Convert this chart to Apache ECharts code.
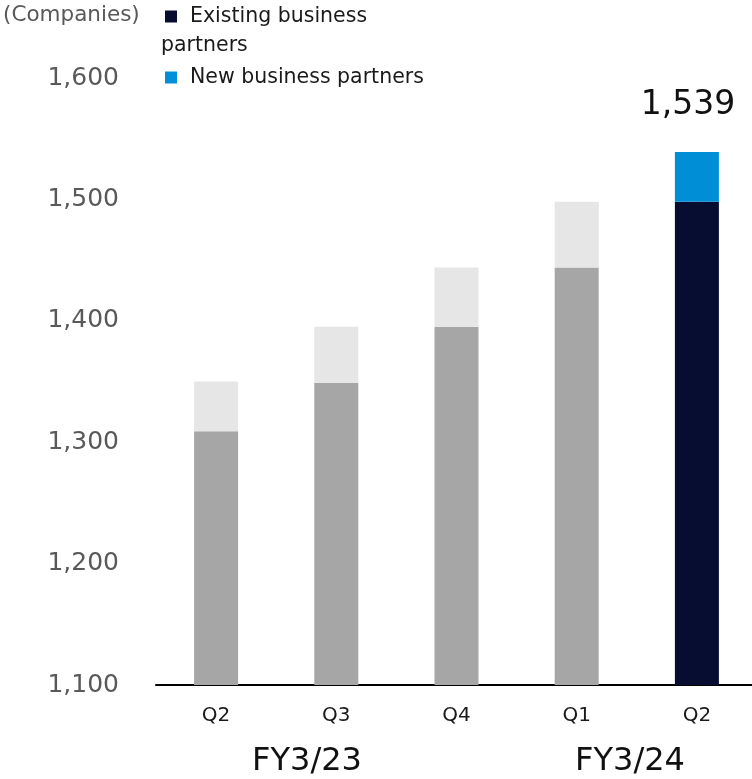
<!DOCTYPE html>
<html>
<head>
<meta charset="utf-8">
<script src="https://cdn.jsdelivr.net/npm/echarts@6/dist/echarts.min.js"></script>
<style>
  html, body { margin: 0; padding: 0; background: #ffffff; }
  #chart { width: 752px; height: 779px; }
</style>
</head>
<body>
<div id="chart"></div>
<script>
// Quarter categories and business-partner counts
const quarters = ['Q2', 'Q3', 'Q4', 'Q1', 'Q2'];
const existingPartners = [1309, 1349, 1395, 1444, 1498];
const newPartners = [41, 46, 49, 54, 41];
const fiscalYears = ['FY3/23', 'FY3/24'];
const yTicks = { min: 1100, max: 1600, interval: 100 };
const unitLabel = '(Companies)';
const seriesNames = ['Existing business partners', 'New business partners'];

const FONT = '"DejaVu Sans", Verdana, sans-serif';
const lastIdx = quarters.length - 1;

// Earlier quarters in grey tones, latest quarter highlighted
const existingData = existingPartners.map((v, i) => ({
  value: v,
  itemStyle: { color: i === lastIdx ? '#060D30' : '#A6A6A6' }
}));
const newData = newPartners.map((v, i) => ({
  value: v,
  itemStyle: { color: i === lastIdx ? '#008FD6' : '#E6E6E6' },
  label: i === lastIdx ? {
    show: true,
    position: 'top',
    distance: 30,
    offset: [-9, 0],
    formatter: () => (existingPartners[i] + newPartners[i]).toLocaleString('en-US'),
    fontFamily: FONT,
    fontSize: 33,
    color: '#111111'
  } : { show: false }
}));

const chart = echarts.init(document.getElementById('chart'), null, { renderer: 'canvas' });

const legendText = { fontFamily: FONT, fontSize: 20.5, color: '#1a1a1a', padding: [0, 0, 0, 8] };

chart.setOption({
  animation: false,
  backgroundColor: '#ffffff',
  textStyle: { fontFamily: FONT },
  title: {
    text: unitLabel,
    left: 3,
    top: 4,
    padding: 0,
    textStyle: { fontFamily: FONT, fontSize: 21.5, fontWeight: 'normal', color: '#595959' }
  },
  legend: [
    {
      data: [{ name: seriesNames[0], itemStyle: { color: '#060D30' } }],
      left: 160, top: 1,
      icon: 'rect', itemWidth: 12, itemHeight: 12, itemGap: 0,
      formatter: () => 'Existing business',
      textStyle: legendText
    },
    {
      data: [{ name: seriesNames[1], itemStyle: { color: '#008FD6' } }],
      left: 160, top: 62,
      icon: 'rect', itemWidth: 12, itemHeight: 12, itemGap: 0,
      textStyle: legendText
    }
  ],
  graphic: [
    {
      type: 'text', left: 161, top: 35,
      style: { text: 'partners', font: '20.5px ' + FONT, fill: '#1a1a1a' }
    },
    {
      type: 'text', x: 307, y: 762,
      style: { text: fiscalYears[0], font: '32px ' + FONT, fill: '#111111', align: 'center', verticalAlign: 'middle' }
    },
    {
      type: 'text', x: 630, y: 762,
      style: { text: fiscalYears[1], font: '32px ' + FONT, fill: '#111111', align: 'center', verticalAlign: 'middle' }
    }
  ],
  // plot area runs a few pixels past the right edge of the canvas
  grid: { left: 156, width: 601, top: 78, bottom: 94, containLabel: false, outerBoundsMode: 'none' },
  xAxis: {
    type: 'category',
    data: quarters,
    axisLine: { lineStyle: { color: '#000000', width: 2 } },
    axisTick: { show: false },
    axisLabel: { margin: 21, fontFamily: FONT, fontSize: 20, color: '#1a1a1a' }
  },
  yAxis: {
    type: 'value',
    min: yTicks.min,
    max: yTicks.max,
    interval: yTicks.interval,
    axisLine: { show: false },
    axisTick: { show: false },
    splitLine: { show: false },
    axisLabel: {
      margin: 37,
      fontFamily: FONT, fontSize: 25, color: '#595959',
      formatter: v => v.toLocaleString('en-US')
    }
  },
  series: [
    { name: seriesNames[0], type: 'bar', stack: 'total', barWidth: 44, data: existingData, itemStyle: { color: '#060D30' } },
    { name: seriesNames[1], type: 'bar', stack: 'total', barWidth: 44, data: newData, itemStyle: { color: '#008FD6' } }
  ]
});
</script>
</body>
</html>
